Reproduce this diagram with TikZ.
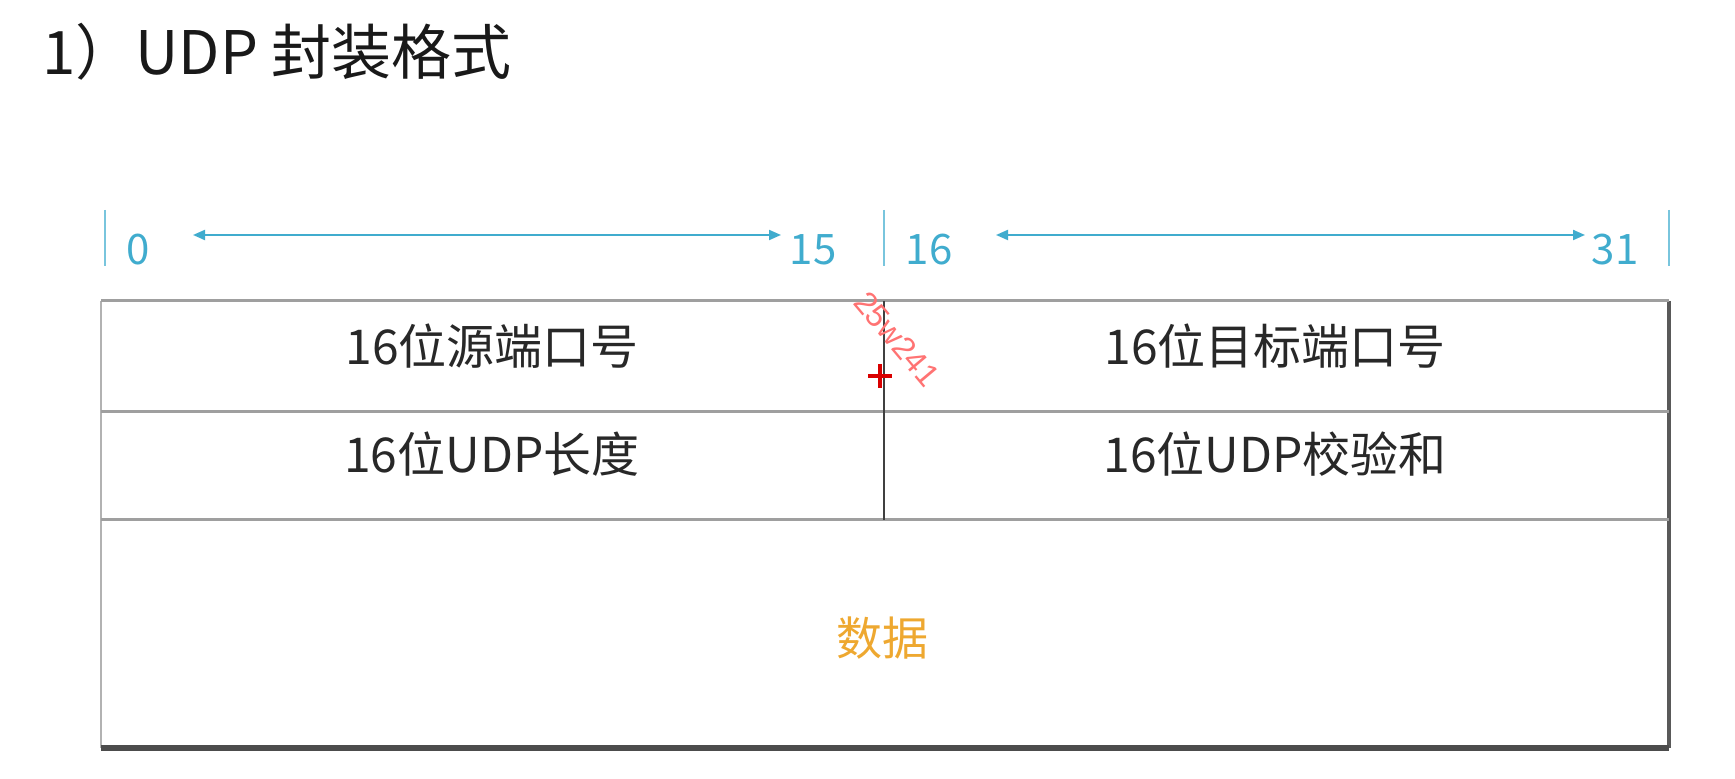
\documentclass[tikz,border=0pt]{standalone}
\usepackage{fontspec}
\setmainfont{Noto Sans CJK SC}
\newfontfamily\markfont{Liberation Sans}
\usetikzlibrary{arrows.meta}
\definecolor{bitcyan}{RGB}{64,172,206}
\definecolor{dataorange}{RGB}{238,168,48}
\definecolor{celltext}{RGB}{40,40,40}

\tikzset{
  bitlabel/.style={font=\fontsize{21}{24}\selectfont, text=bitcyan, inner sep=0pt},
  bittick/.style={bitcyan!70, line width=0.8pt},
  bitspan/.style={bitcyan, line width=1pt, {Triangle[length=6pt,width=5pt]}-{Triangle[length=6pt,width=5pt]}},
  field/.style={font=\fontsize{24}{28}\selectfont, text=celltext},
  rule/.style={gray!75, line width=1.5pt},
}

\begin{document}
\begin{tikzpicture}[x=0.5pt, y=-0.5pt]
  \useasboundingbox[fill=white] (0,0) rectangle (1735,779);
  \def\tl{101} \def\tm{884} \def\tr{1669}
  \def\ra{301} \def\rb{412} \def\rc{520} \def\rd{748}

  % Title
  \node[anchor=west, font=\fontsize{30}{35}\selectfont, text=black!90, inner sep=0pt] (title) at (42,52) {1）UDP 封装格式};

  % Bit ruler
  \foreach \x in {105,\tm,\tr} { \draw[bittick] (\x,210) -- (\x,266); }
  \node[bitlabel] (b0) at (138,250) {0};
  \node[bitlabel] (b15) at (813,250) {15};
  \node[bitlabel] (b16) at (929,250) {16};
  \node[bitlabel] (b31) at (1615,250) {31};
  \coordinate (s0) at (193,235); \coordinate (s15) at (781,235);
  \coordinate (s16) at (996,235); \coordinate (s31) at (1585,235);
  \draw[bitspan] (s0) -- (s15);
  \draw[bitspan] (s16) -- (s31);

  % Header table
  \draw[gray!60, line width=1pt] (\tl,\ra) -- (\tl,\rd);
  \draw[black!65, line width=1.6pt] (\tr,\ra) -- (\tr,\rd);
  \foreach \y in {\ra,\rb,\rc} { \draw[rule] (\tl,\y) -- (\tr,\y); }
  \draw[black!70, line width=3pt] (\tl,\rd) -- (\tr,\rd);
  \draw[black!75, line width=0.8pt] (\tm,\ra) -- (\tm,\rc);

  % Fields
  \node[field] (srcport) at (492,346) {16位源端口号};
  \node[field] (dstport) at (1275,346) {16位目标端口号};
  \node[field] (udplen) at (492,454) {16位UDP长度};
  \node[field] (udpsum) at (1275,454) {16位UDP校验和};
  \node[font=\fontsize{23}{27}\selectfont, text=dataorange] (payload) at (882,638) {数据};

  % Watermark
  \node[font=\markfont\fontsize{16}{19}\selectfont, text=red!55, rotate=-50, inner sep=0pt] (mark) at (897,339) {25w241};
  \draw[red!85!black, line width=2pt] (868,376) -- (892,376) (880,364) -- (880,388);
\end{tikzpicture}
\end{document}
